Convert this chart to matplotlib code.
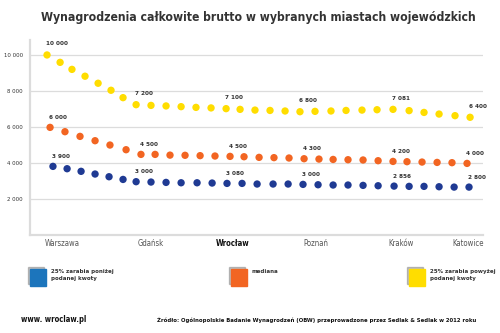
import matplotlib
matplotlib.use("Agg")
import matplotlib.pyplot as plt
from matplotlib.patches import Rectangle

# --- data ------------------------------------------------------------------
cities = ["Warszawa", "Gdańsk", "Wrocław", "Poznań", "Kraków", "Katowice"]
city_pos = [0.99, 6.84, 12.24, 17.7, 23.29, 27.7]

top_x = [0, 0.86, 1.64, 2.5, 3.36, 4.21, 5.0, 5.86, 6.84, 7.83, 8.82, 9.8,
         10.79, 11.78, 12.7, 13.68, 14.67, 15.66, 16.64, 17.63, 18.68, 19.67,
         20.72, 21.71, 22.76, 23.82, 24.8, 25.79, 26.84, 27.83]
top_y = [10000, 9590, 9200, 8820, 8430, 8040, 7630, 7240, 7200, 7170, 7130,
         7090, 7060, 7020, 6980, 6940, 6920, 6890, 6850, 6870, 6890, 6920,
         6940, 6960, 6980, 6910, 6810, 6720, 6630, 6540]
top_labels = {0: "10 000", 7: "7 200", 13: "7 100", 18: "6 800", 24: "7 081", 29: "6 400"}

med_x = [0.2, 1.18, 2.17, 3.16, 4.14, 5.2, 6.18, 7.11, 8.09, 9.08, 10.07,
         11.05, 12.04, 12.96, 13.95, 14.93, 15.92, 16.91, 17.89, 18.82, 19.8,
         20.79, 21.78, 22.76, 23.68, 24.67, 25.66, 26.64, 27.63]
med_y = [5980, 5740, 5480, 5240, 5000, 4740, 4480, 4480, 4440, 4430, 4410,
         4390, 4370, 4350, 4315, 4300, 4280, 4240, 4220, 4200, 4185, 4170,
         4130, 4090, 4075, 4055, 4035, 4020, 3980]
med_labels = {0: "6 000", 6: "4 500", 12: "4 500", 17: "4 300", 23: "4 200", 28: "4 000"}

low_x = [0.39, 1.32, 2.24, 3.16, 4.08, 5.0, 5.86, 6.84, 7.83, 8.82, 9.87,
         10.86, 11.84, 12.83, 13.82, 14.87, 15.86, 16.84, 17.83, 18.82, 19.8,
         20.79, 21.78, 22.83, 23.82, 24.8, 25.79, 26.78, 27.76]
low_y = [3815, 3685, 3540, 3390, 3240, 3090, 2965, 2945, 2925, 2905, 2905,
         2890, 2870, 2870, 2835, 2835, 2835, 2815, 2795, 2780, 2780, 2760,
         2740, 2720, 2705, 2705, 2685, 2665, 2665]
low_labels = {0: "3 900", 6: "3 000", 12: "3 080", 17: "3 000", 23: "2 856", 28: "2 800"}

yticks = [2000, 4000, 6000, 8000, 10000]

legend_text = ["25% zarabia poniżej\npodanej kwoty", "mediana",
               "25% zarabia powyżej\npodanej kwoty"]

# --- style -----------------------------------------------------------------
plt.rcParams["font.family"] = ["DejaVu Sans"]
plt.rcParams["font.stretch"] = "condensed"
DARK = "#333333"
GRID = "#dcdcdc"
C_TOP, C_MED, C_LOW = "#ffdd00", "#f26522", "#1f3a93"
LEG = ["#1c75bc", "#f26522", "#ffdd00"]

fig = plt.figure(figsize=(5.0, 3.33), dpi=100)
ax = fig.add_axes([0.06, 0.294, 0.906, 0.586])
ax.set_xlim(-1.12, 28.68)
ax.set_ylim(0, 10833)

for s in ("top", "right"):
    ax.spines[s].set_visible(False)
for s in ("left", "bottom"):
    ax.spines[s].set_color(GRID)
    ax.spines[s].set_linewidth(1.6)
ax.set_yticks(yticks)
ax.set_yticklabels([f"{v:,}".replace(",", " ") for v in yticks],
                   fontsize=4.3, color=DARK)
ax.tick_params(axis="y", length=0, pad=5)
ax.grid(axis="y", color=GRID, linewidth=0.9)
ax.set_axisbelow(True)

ax.set_xticks(city_pos)
ax.set_xticklabels(cities, fontsize=5.6, color="#555555")
ax.tick_params(axis="x", length=0, pad=3)
for lbl in ax.get_xticklabels():
    if lbl.get_text() == "Wrocław":
        lbl.set_fontweight("bold")
        lbl.set_color("#111111")

series = [
    (top_x, top_y, top_labels, C_TOP, 8),
    (med_x, med_y, med_labels, C_MED, 7),
    (low_x, low_y, low_labels, C_LOW, 7),
]
for xs, ys, labels, col, off in series:
    ax.scatter(xs, ys, s=28, color=col, edgecolors="none", zorder=3, clip_on=False)
    for i, txt in labels.items():
        ax.annotate(txt, xy=(xs[i], ys[i]), xytext=(-1, off),
                    textcoords="offset points", ha="left", va="center",
                    fontsize=4.6, fontweight="bold", color=DARK)

fig.text(0.516, 0.948, "Wynagrodzenia całkowite brutto w wybranych miastach wojewódzkich",
         ha="center", va="center", fontsize=8.7, fontweight="bold", color=DARK)

# legend
for (x0, tx), col, txt in zip([(0.06, 0.102), (0.462, 0.502), (0.818, 0.86)], LEG, legend_text):
    y0 = 1 - 286 / 333
    fig.patches.append(Rectangle((x0 - 0.004, y0 + 0.006), 0.032, 0.05,
                                 transform=fig.transFigure, color="#555555",
                                 alpha=0.35, zorder=1))
    fig.patches.append(Rectangle((x0, y0), 0.032, 0.05,
                                 transform=fig.transFigure, color=col, zorder=2))
    fig.text(tx, 1 - 269 / 333, txt, ha="left", va="top", fontsize=4.4,
             fontweight="bold", color=DARK, linespacing=1.5)

fig.text(0.042, 1 - 320 / 333, "www. wroclaw.pl", ha="left", va="center",
         fontsize=5.5, fontweight="bold", color="#111111")
fig.text(0.314, 1 - 320 / 333,
         "Źródło: Ogólnopolskie Badanie Wynagrodzeń (OBW) przeprowadzone przez Sedlak & Sedlak w 2012 roku",
         ha="left", va="center", fontsize=4.2, fontweight="bold", color="#111111")

fig.savefig("out.png", dpi=100)
